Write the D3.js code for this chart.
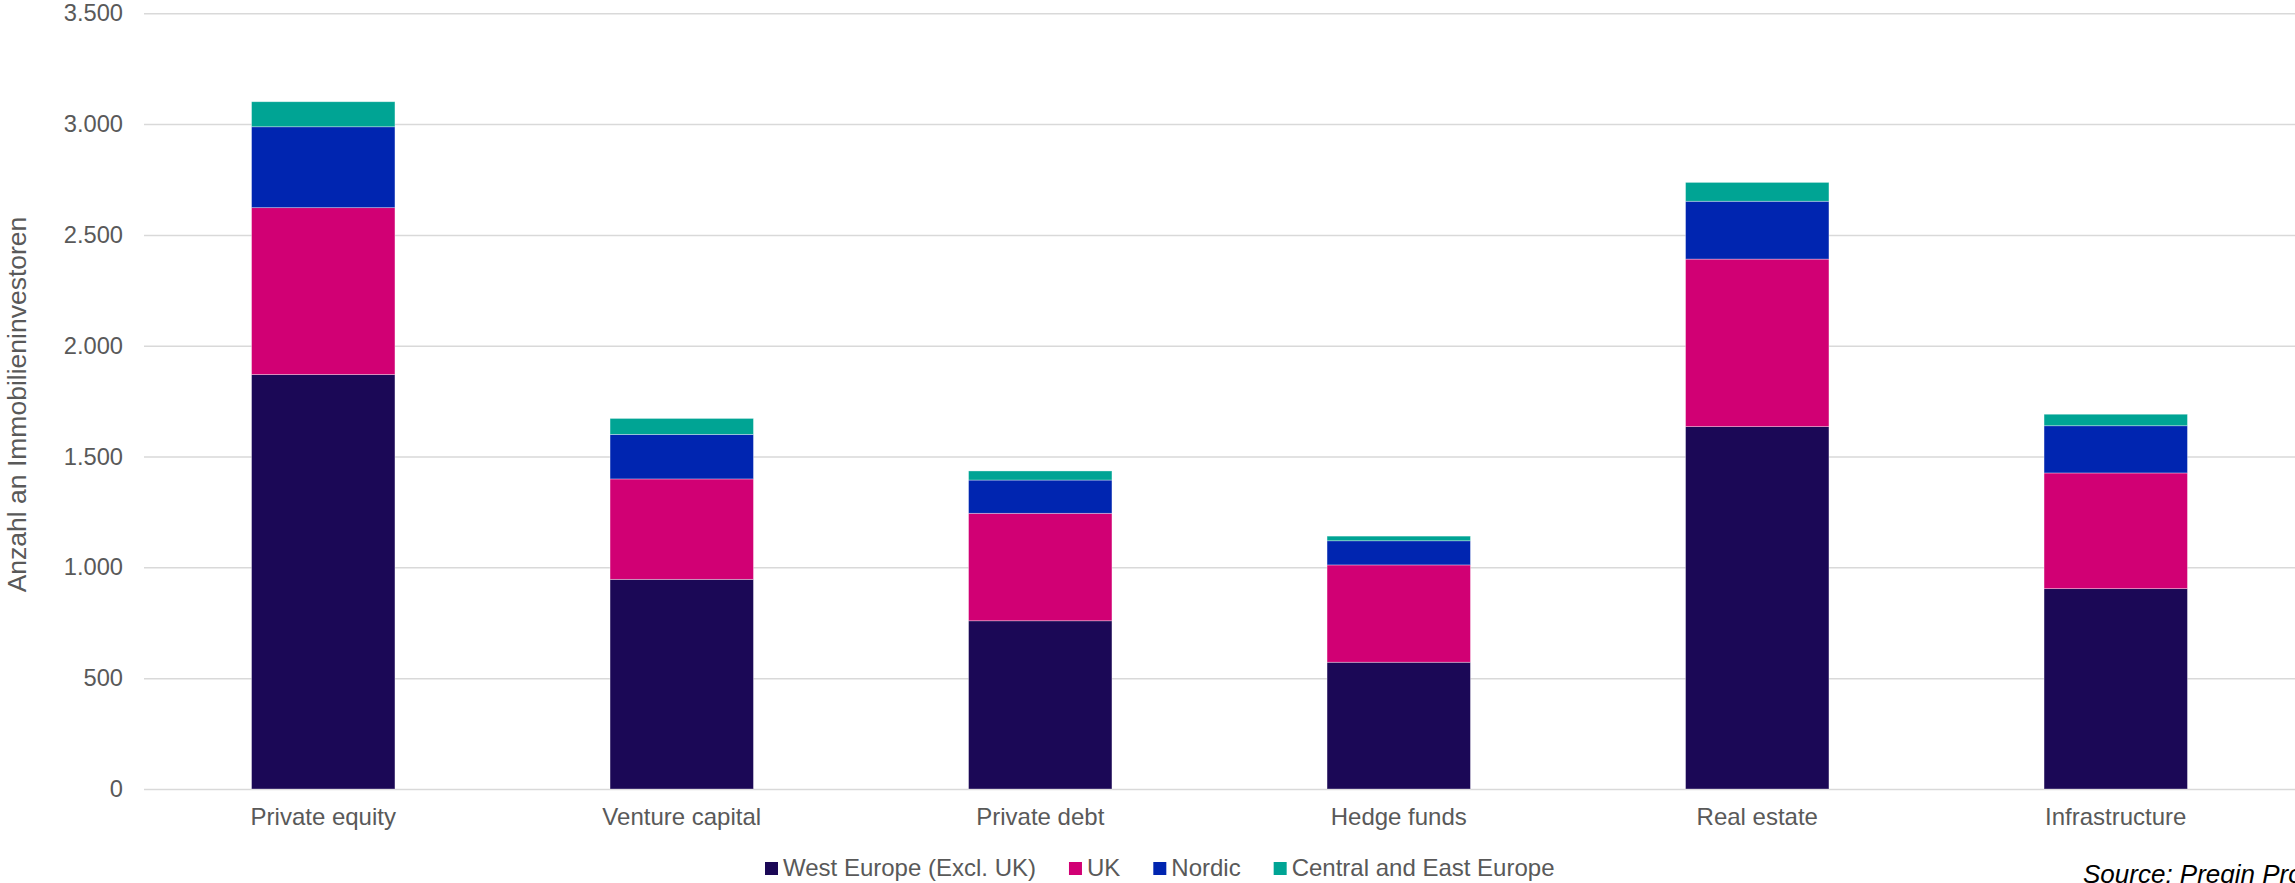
<!DOCTYPE html>
<html>
<head>
<meta charset="utf-8">
<script src="https://cdn.jsdelivr.net/npm/d3@7"></script>
<style>
  body { margin: 0; background: #fff; }
  svg { display: block; font-family: "Liberation Sans", Arial, sans-serif; }
</style>
</head>
<body>
<div id="chart"></div>
<script>
// data
var categories = ["Private equity", "Venture capital", "Private debt", "Hedge funds", "Real estate", "Infrastructure"];
var seriesNames = ["West Europe (Excl. UK)", "UK", "Nordic", "Central and East Europe"];
var westEurope = [1870, 946, 759, 572, 1635, 904];
var uk = [753, 453, 485, 439, 756, 522];
var nordic = [365, 201, 150, 109, 261, 213];
var centralEast = [113, 72, 41, 21, 85, 52];
var yTicks = [0, 500, 1000, 1500, 2000, 2500, 3000, 3500];
var colors = ["#1b0856", "#d10074", "#0025b0", "#00a494"];

var w = 2295;
var h = 883;

var svg = d3.select("#chart").append("svg")
	.attr("width", w)
	.attr("height", h);

var x = d3.scaleBand()
	.domain(categories)
	.range([144, 2295])
	.paddingInner(0.6)
	.paddingOuter(0.3);

var y = d3.scaleLinear()
	.domain([0, 3500])
	.range([789, 13.3]);

var de = d3.formatLocale({decimal: ",", thousands: ".", grouping: [3], currency: ["", "€"]});
var fmt = de.format(",");

// gridlines + tick labels
var yAxis = d3.axisLeft(y)
	.tickValues(yTicks)
	.tickFormat(fmt)
	.tickSize(-(2295 - 144))
	.tickPadding(21);
var gy = svg.append("g")
	.attr("transform", "translate(144,0)")
	.call(yAxis);
gy.select(".domain").remove();
gy.selectAll(".tick line")
	.attr("stroke", "#d9d9d9")
	.attr("stroke-width", 1.5);
gy.selectAll(".tick text")
	.attr("fill", "#595959")
	.style("font-size", "23.7px")
	.style("font-family", "'Liberation Sans', Arial, sans-serif");

// stacked bars
var rows = categories.map(function(c, i) {
	return {cat: c, s0: westEurope[i], s1: uk[i], s2: nordic[i], s3: centralEast[i]};
});
var stack = d3.stack().keys(["s0", "s1", "s2", "s3"]);
var layers = stack(rows);

svg.append("g").selectAll("g")
	.data(layers)
	.enter()
	.append("g")
	.attr("fill", function(d, i) { return colors[i]; })
	.selectAll("rect")
	.data(function(d) { return d; })
	.enter()
	.append("rect")
	.attr("x", function(d) { return x(d.data.cat); })
	.attr("width", x.bandwidth())
	.attr("y", function(d) { return y(d[1]); })
	.attr("height", function(d) { return y(d[0]) - y(d[1]); })
	.attr("stroke", "#ffffff")
	.attr("stroke-width", 0.75)
	.attr("stroke-opacity", 0.45);

// category labels
var xAxis = d3.axisBottom(x).tickSize(0).tickPadding(0);
var gx = svg.append("g")
	.attr("transform", "translate(0,789)")
	.call(xAxis);
gx.select(".domain").remove();
gx.selectAll(".tick text")
	.attr("y", 36)
	.attr("dy", 0)
	.attr("fill", "#595959")
	.style("font-size", "24px")
	.style("font-family", "'Liberation Sans', Arial, sans-serif");

// y axis title
svg.append("text")
	.attr("transform", "translate(26,404.5) rotate(-90)")
	.attr("text-anchor", "middle")
	.attr("fill", "#595959")
	.style("font-size", "26.5px")
	.text("Anzahl an Immobilieninvestoren");

// legend
var lx = 765;
var legend = svg.append("g");
seriesNames.forEach(function(name, i) {
	legend.append("rect")
		.attr("x", lx)
		.attr("y", 862)
		.attr("width", 13)
		.attr("height", 13)
		.attr("fill", colors[i]);
	var t = legend.append("text")
		.attr("x", lx + 18)
		.attr("y", 876)
		.attr("fill", "#595959")
		.style("font-size", "24px")
		.text(name);
	var len = t.node().getComputedTextLength();
	lx = lx + 18 + len + 33;
});

// source note
svg.append("text")
	.attr("x", 2083)
	.attr("y", 883)
	.attr("fill", "#000")
	.style("font-size", "26px")
	.style("font-style", "italic")
	.text("Source: Preqin Pro");
</script>
</body>
</html>
